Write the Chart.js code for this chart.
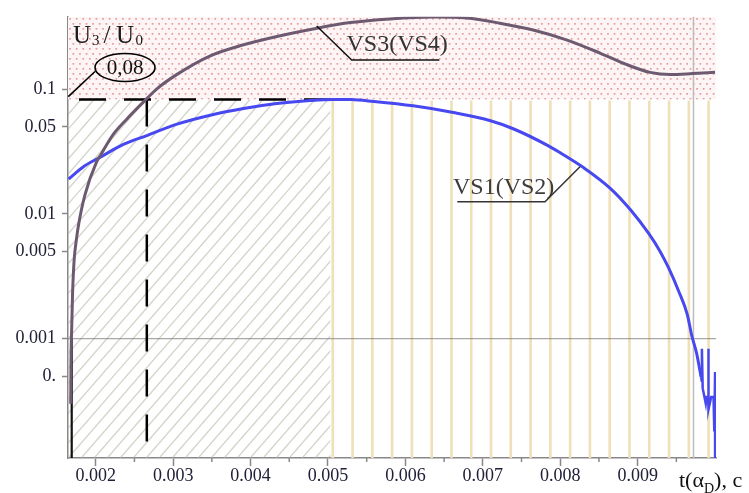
<!DOCTYPE html>
<html><head><meta charset="utf-8">
<script src="https://cdn.jsdelivr.net/npm/chart.js@4.4.1/dist/chart.umd.min.js"></script>
<style>html,body{margin:0;padding:0;background:#fff;}#wrap{width:749px;height:493px;position:relative;}</style>
</head><body><div id="wrap"><canvas id="c" width="749" height="493"></canvas></div>
<script>
// ---- axis ranges and ticks ----
const X_MIN = 0.001642, X_MAX = 0.010012;
const Y_MIN = 0.00011, Y_MAX = 0.3826;
const xTicks = [0.002, 0.003, 0.004, 0.005, 0.006, 0.007, 0.008, 0.009];
const xMinorTicks = [0.0025, 0.0035, 0.0045, 0.0055, 0.0065, 0.0075, 0.0085, 0.0095];
const yTicks = [0.0005, 0.001, 0.005, 0.01, 0.05, 0.1];
const yTickLabels = ['0.', '0.001', '0.005', '0.01', '0.05', '0.1'];

// ---- series VS1(VS2) ----
const vs1X = [0.00165,0.00185,0.00206,0.00235,0.00266,0.00305,0.00348,0.00391,0.00434,0.00477,0.00507,0.0053,0.00559,0.0061,0.00662,0.0071,0.0074,0.00783,0.0080,0.0083,0.00865,0.00891,0.00914,0.00929,0.0094,0.00953,0.00964,0.0097,0.00976,0.00982];
const vs1Y = [0.0191,0.0242,0.0286,0.0360,0.0426,0.0526,0.0621,0.0702,0.0769,0.0813,0.0830,0.0828,0.0800,0.0738,0.0652,0.0560,0.0481,0.0357,0.0310,0.0236,0.0160,0.01076,0.00701,0.00501,0.00369,0.0024,0.00157,0.00105,0.00077,0.00049];
// noisy tail of VS1
const vs1TailX = [0.00982,0.00983,0.00983,0.00984,0.00988,0.00989,0.00991,0.00991,0.00992,0.00995,0.00998,0.00999,0.01,0.01];
const vs1TailY = [0.00049,0.00045,0.00083,0.00040,0.00030,0.00034,0.00034,0.00083,0.00027,0.00034,0.00034,0.00018,0.00054,0.00011];

// ---- series VS3(VS4) ----
const vs3X = [0.001677,0.00168,0.00169,0.0017,0.00172,0.00175,0.00178,0.00186,0.00201,0.00206,0.00222,0.0024,0.00266,0.00279,0.00305,0.00348,0.00391,0.00434,0.00486,0.00529,0.0058,0.00636,0.00679,0.00722,0.00765,0.00808,0.00852,0.00886,0.00916,0.00942,0.00971,0.01];
const vs3Y = [0.0003,0.0006,0.00123,0.0022,0.00417,0.0062,0.0083,0.0142,0.0261,0.0295,0.0430,0.0577,0.0843,0.1010,0.1320,0.1860,0.228,0.266,0.31,0.344,0.368,0.381,0.374,0.34,0.30,0.25,0.195,0.158,0.137,0.1317,0.134,0.137];

// ---- reference levels / regions (data units) ----
const refLevel = 0.083;      // dashed horizontal "0,08"
const refTime = 0.00266;     // dashed vertical
const startTime = 0.00169;   // solid black vertical
const hatchEnd = 0.00503;
const stripeStart = 0.005062, stripeStep = 0.0002555, stripeCount = 20;
const grayTime = 0.009721, grayLevel = 0.001;

const SERIF = '"Liberation Serif","Times New Roman",serif';

const decor = {
  id: 'decor',
  beforeDatasetsDraw(chart) {
    const {ctx, chartArea: a, scales: {x, y}} = chart;
    const yd = y.getPixelForValue(refLevel);
    const xh = x.getPixelForValue(hatchEnd);
    // pink dotted region
    ctx.save();
    ctx.beginPath(); ctx.rect(a.left, a.top, a.right - a.left, yd - a.top); ctx.clip();
    ctx.fillStyle = '#fdf5f5';
    ctx.fillRect(a.left, a.top, a.right - a.left, yd - a.top);
    ctx.fillStyle = '#e69c9c';
    let r = 0;
    for (let yy = a.top + 2; yy < yd; yy += 5, r++) {
      for (let xx = a.left + 2 + (r % 2) * 3.3; xx < a.right; xx += 6.6) {
        ctx.fillRect(xx - 0.8, yy - 0.8, 1.7, 1.7);
      }
    }
    ctx.restore();
    // gray hatch
    ctx.save();
    ctx.beginPath(); ctx.rect(a.left, yd, xh - a.left, a.bottom - yd); ctx.clip();
    ctx.strokeStyle = 'rgba(180,182,165,0.6)'; ctx.lineWidth = 1.3;
    const H = a.bottom - yd, k = 1.15, sp = 13;
    for (let x0 = a.left - H / k; x0 < xh + sp; x0 += sp) {
      ctx.beginPath(); ctx.moveTo(x0, a.bottom); ctx.lineTo(x0 + H / k, yd); ctx.stroke();
    }
    ctx.restore();
    // yellow stripes
    ctx.save();
    ctx.strokeStyle = '#f0e0b8'; ctx.lineWidth = 2.6;
    for (let i = 0; i < stripeCount; i++) {
      const px = x.getPixelForValue(stripeStart + i * stripeStep);
      ctx.beginPath(); ctx.moveTo(px, yd + 1); ctx.lineTo(px, a.bottom); ctx.stroke();
    }
    // gray guide lines
    ctx.strokeStyle = 'rgba(110,110,110,0.6)'; ctx.lineWidth = 1.2;
    const yg = y.getPixelForValue(grayLevel);
    ctx.beginPath(); ctx.moveTo(a.left, yg); ctx.lineTo(a.right, yg); ctx.stroke();
    ctx.strokeStyle = '#bdbdbd'; ctx.lineWidth = 1.5;
    const xg = x.getPixelForValue(grayTime);
    ctx.beginPath(); ctx.moveTo(xg, a.top); ctx.lineTo(xg, a.bottom); ctx.stroke();
    // dashed black lines
    ctx.strokeStyle = '#000'; ctx.lineWidth = 2.5;
    ctx.setLineDash([27, 18]); ctx.lineDashOffset = 34;
    ctx.beginPath(); ctx.moveTo(a.left, yd); ctx.lineTo(xh + 1, yd); ctx.stroke();
    const xr = x.getPixelForValue(refTime);
    ctx.lineDashOffset = 0;
    ctx.beginPath(); ctx.moveTo(xr, yd); ctx.lineTo(xr, a.bottom); ctx.stroke();
    ctx.setLineDash([]);
    // solid black vertical
    ctx.lineWidth = 2.2; ctx.strokeStyle = '#111';
    const xs = x.getPixelForValue(startTime);
    ctx.beginPath(); ctx.moveTo(xs, yg); ctx.lineTo(xs, a.bottom); ctx.stroke();
    ctx.restore();
  },
  afterDraw(chart) {
    const {ctx, chartArea: a, scales: {x}} = chart;
    ctx.save();
    // minor x ticks
    ctx.strokeStyle = '#888'; ctx.lineWidth = 1.5;
    xMinorTicks.forEach(v => {
      const px = x.getPixelForValue(v);
      ctx.beginPath(); ctx.moveTo(px, a.bottom); ctx.lineTo(px, a.bottom + 4); ctx.stroke();
    });
    ctx.textBaseline = 'alphabetic'; ctx.textAlign = 'left';
    // title U3 / U0
    ctx.fillStyle = '#1a1a1a';
    ctx.font = '25px ' + SERIF; ctx.fillText('U', 73, 43.3);
    ctx.font = '15px ' + SERIF; ctx.fillText('3', 92, 45);
    ctx.font = '25px ' + SERIF; ctx.fillText('/', 103.5, 43.3);
    ctx.fillText('U', 116, 43.3);
    ctx.font = '15px ' + SERIF; ctx.fillText('0', 135.5, 45);
    // 0,08 ellipse
    ctx.strokeStyle = '#000'; ctx.lineWidth = 1.6;
    ctx.beginPath(); ctx.ellipse(125, 67.5, 30, 14, 0, 0, Math.PI * 2); ctx.stroke();
    ctx.beginPath(); ctx.moveTo(95, 71.5); ctx.lineTo(68.3, 96.7); ctx.stroke();
    ctx.font = '21px ' + SERIF; ctx.textAlign = 'center'; ctx.textBaseline = 'middle';
    ctx.fillStyle = '#111'; ctx.fillText('0,08', 125, 68.5);
    // VS3(VS4) label
    ctx.textAlign = 'left'; ctx.textBaseline = 'alphabetic';
    ctx.font = '24px ' + SERIF; ctx.fillStyle = '#333';
    ctx.fillText('VS3(VS4)', 346.5, 50.5);
    ctx.strokeStyle = '#111'; ctx.lineWidth = 1.5;
    ctx.beginPath(); ctx.moveTo(316.7, 26); ctx.lineTo(351.7, 60); ctx.lineTo(439.3, 60); ctx.stroke();
    // VS1(VS2) label
    ctx.fillStyle = '#3c3c3c';
    ctx.fillText('VS1(VS2)', 453, 193.5);
    ctx.strokeStyle = '#333';
    ctx.beginPath(); ctx.moveTo(457.3, 201.7); ctx.lineTo(545, 201.7); ctx.lineTo(580, 166.7); ctx.stroke();
    // x axis title t(αD), c
    ctx.fillStyle = '#111';
    let tx = 679;
    ctx.font = '22px ' + SERIF; ctx.fillText('t(α', tx, 487); tx += ctx.measureText('t(α').width;
    ctx.font = '14px ' + SERIF; ctx.fillText('D', tx, 493); tx += ctx.measureText('D').width;
    ctx.font = '22px ' + SERIF; ctx.fillText('), c', tx, 487);
    ctx.restore();
  }
};

const toPts = (xs, ys) => xs.map((v, i) => ({x: v, y: ys[i]}));

new Chart(document.getElementById('c'), {
  type: 'line',
  data: {
    datasets: [
      {label: 'VS3(VS4)', data: toPts(vs3X, vs3Y), borderColor: '#6e5a70', borderWidth: 3, pointRadius: 0, cubicInterpolationMode: 'monotone', fill: false},
      {label: 'VS1(VS2)', data: toPts(vs1X, vs1Y), borderColor: '#4848f0', borderWidth: 3, pointRadius: 0, cubicInterpolationMode: 'monotone', fill: false},
      {label: 'VS1 tail', data: toPts(vs1TailX, vs1TailY), borderColor: '#4848f0', borderWidth: 2.5, pointRadius: 0, tension: 0, fill: false}
    ]
  },
  options: {
    responsive: false, animation: false, devicePixelRatio: 1,
    layout: {padding: {left: 0, top: 13.5, right: 33, bottom: 0}},
    plugins: {legend: {display: false}, tooltip: {enabled: false}},
    scales: {
      x: {
        type: 'linear', min: X_MIN, max: X_MAX,
        afterBuildTicks: s => { s.ticks = xTicks.map(v => ({value: v})); },
        afterFit: s => { s.height = 35; },
        ticks: {callback: v => Number(v).toFixed(3), font: {family: SERIF, size: 18}, color: '#202038', maxRotation: 0, autoSkip: false, padding: -1},
        grid: {drawOnChartArea: false, tickLength: 8, color: '#888', tickWidth: 1.5},
        border: {color: '#888', width: 1.5}
      },
      y: {
        type: 'logarithmic', min: Y_MIN, max: Y_MAX,
        afterBuildTicks: s => { s.ticks = yTicks.map(v => ({value: v})); },
        afterFit: s => { s.width = 68; },
        ticks: {
          callback: v => { const i = yTicks.findIndex(t => Math.abs(t - v) / t < 1e-6); return i >= 0 ? yTickLabels[i] : ''; },
          font: {family: SERIF, size: 18}, color: '#202038', padding: 6, autoSkip: false
        },
        grid: {drawOnChartArea: false, tickLength: 6, color: '#888', tickWidth: 1.5},
        border: {color: '#888', width: 1.5}
      }
    }
  },
  plugins: [decor]
});
</script></body></html>
